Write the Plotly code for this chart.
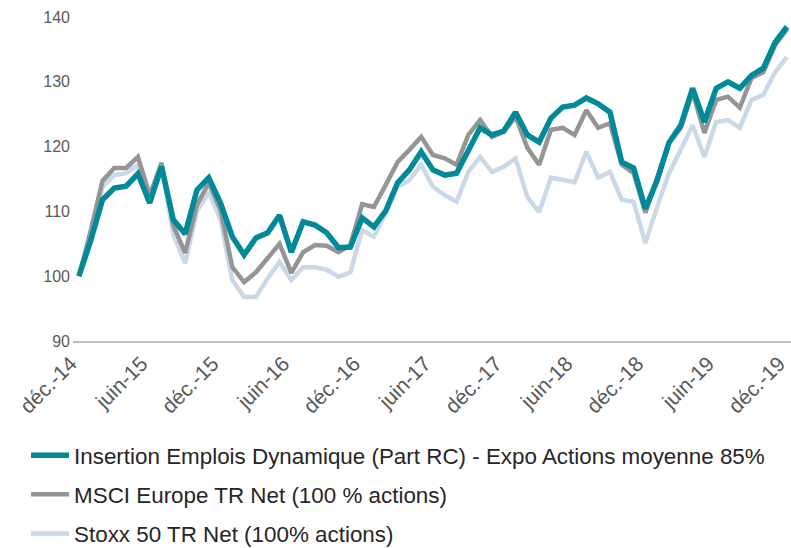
import plotly.graph_objects as go

# ---------------------------------------------------------------------------
# Data (base 100, monthly, déc.-14 -> déc.-19)
# ---------------------------------------------------------------------------
MOIS = ["janv.", "févr.", "mars", "avr.", "mai", "juin",
        "juil.", "août", "sept.", "oct.", "nov.", "déc."]
months = ["déc.-14"] + [f"{m}-{y}" for y in range(15, 20) for m in MOIS]

tick_labels = ["déc.-14", "juin-15", "déc.-15", "juin-16", "déc.-16", "juin-17",
               "déc.-17", "juin-18", "déc.-18", "juin-19", "déc.-19"]

fund = [100, 105.5, 111.8, 113.6, 113.9, 115.8, 111.3, 116.9, 108.7, 106.5,
        113.3, 115.2, 111.3, 106.1, 103.3, 105.9, 106.7, 109.4, 103.7, 108.4,
        107.9, 106.7, 104.4, 104.5, 109.0, 107.6, 110.1, 114.4, 116.4, 119.2,
        116.4, 115.6, 115.9, 119.5, 122.9, 121.8, 122.4, 125.3, 121.8, 120.7,
        124.4, 126.1, 126.4, 127.5, 126.6, 125.3, 117.6, 116.7, 110.4, 114.8,
        120.6, 123.3, 129.0, 123.8, 129.0, 130.0, 129.0, 131.0, 132.1, 136.1,
        138.5]

msci = [100, 107.0, 114.7, 116.7, 116.7, 118.4, 112.5, 117.5, 107.8, 103.6,
        111.0, 114.4, 110.2, 101.4, 99.1, 100.6, 102.8, 105.0, 100.5, 103.7,
        104.8, 104.7, 103.7, 104.8, 111.1, 110.7, 114.1, 117.6, 119.5, 121.5,
        118.7, 118.2, 117.2, 121.8, 124.1, 121.5, 122.3, 124.6, 119.8, 117.2,
        122.6, 122.9, 121.8, 125.6, 122.9, 123.6, 117.2, 115.9, 109.8, 115.3,
        120.6, 122.9, 128.4, 122.1, 127.2, 127.7, 126.0, 130.6, 131.5, 135.7,
        138.1]

stoxx = [100, 106.5, 113.8, 115.6, 115.9, 117.2, 111.5, 117.2, 106.4, 102.0,
         110.0, 113.0, 108.7, 99.4, 96.8, 96.8, 99.7, 102.2, 99.4, 101.4,
         101.4, 101.0, 99.9, 100.6, 107.1, 106.1, 109.8, 113.8, 114.8, 117.2,
         113.8, 112.5, 111.5, 116.1, 118.4, 116.1, 116.9, 118.2, 112.2, 109.9,
         115.2, 114.8, 114.5, 119.2, 115.2, 116.1, 111.8, 111.5, 105.1, 110.7,
         115.9, 119.5, 123.3, 118.4, 123.8, 124.1, 122.9, 127.2, 128.0, 131.5,
         133.8]

# ---------------------------------------------------------------------------
# Figure
# ---------------------------------------------------------------------------
# drawn bottom -> top; legendrank puts the fund first in the legend
series = [
    ("Stoxx 50 TR Net (100% actions)", stoxx, "#C9D9E8", 4.5, 3),
    ("MSCI Europe TR Net (100 % actions)", msci, "#959595", 4.5, 2),
    ("Insertion Emplois Dynamique (Part RC) - Expo Actions moyenne 85%",
     fund, "#008A99", 5.5, 1),
]

fig = go.Figure()
for name, vals, color, width, rank in series:
    fig.add_trace(go.Scatter(
        x=months, y=vals, mode="lines", name=name,
        line=dict(color=color, width=width),
        legendgroup=name, legendrank=rank,
    ))

FONT = "Liberation Sans, Arial, sans-serif"

fig.update_layout(
    width=791, height=548,
    # fixed margins: the legend below must not push the plot area around
    margin=dict(l=73, r=0, t=17, b=207, autoexpand=False),
    plot_bgcolor="white", paper_bgcolor="white",
    font=dict(family=FONT, color="#595959"),
    showlegend=True,
    legend=dict(
        x=-0.0654, y=-0.2873, xanchor="left", yanchor="top",
        traceorder="grouped",
        tracegroupgap=7,
        itemwidth=38,
        font=dict(size=22.4, color="#262626", family=FONT),
        bgcolor="rgba(0,0,0,0)",
    ),
    xaxis=dict(
        type="category",
        range=[-0.5, 60.34],
        tickvals=tick_labels,
        ticktext=tick_labels,
        tickangle=-45,
        tickfont=dict(size=21, color="#595959"),
        ticklabelshift=-8,
        showline=True, linecolor="#C0C0C0", linewidth=2,
        ticks="", showgrid=False, zeroline=False,
        automargin=False,
    ),
    yaxis=dict(
        range=[90, 140],
        tickvals=[90, 100, 110, 120, 130, 140],
        tickfont=dict(size=16, color="#595959"),
        showline=False, showgrid=False, zeroline=False,
        ticks="", ticklabelstandoff=2,
        automargin=False,
    ),
)

# drop the default 8px page margin so the figure fills the window exactly
fig.write_html(
    "out.html",
    config=dict(displayModeBar=False),
    post_script="document.body.style.margin='0';",
)
